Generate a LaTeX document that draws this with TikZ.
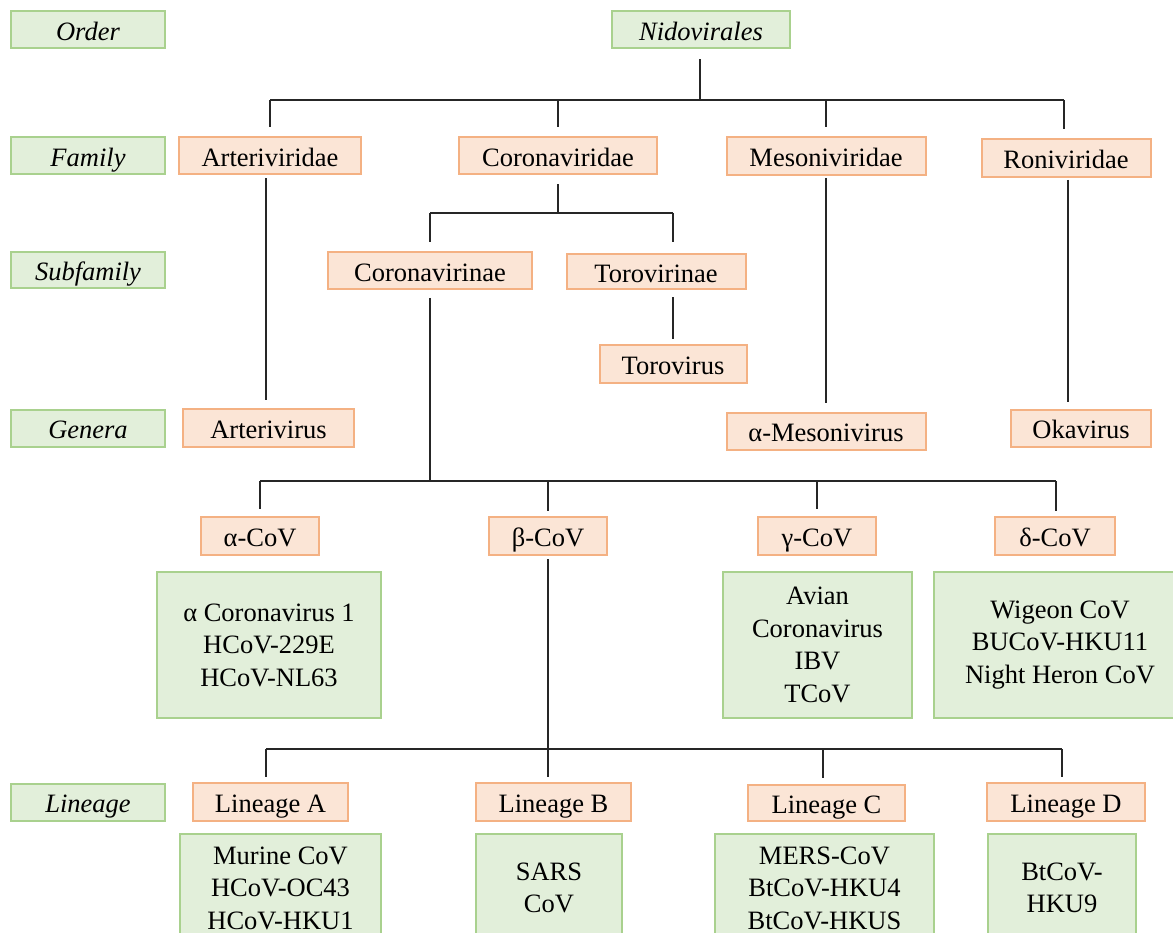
\documentclass[tikz,border=0pt]{standalone}
\usepackage{fontspec}
\setmainfont{Liberation Serif}
\definecolor{gfill}{HTML}{E2EFDA}
\definecolor{gline}{HTML}{A9D18E}
\definecolor{ofill}{HTML}{FBE5D6}
\definecolor{oline}{HTML}{F4B183}
\definecolor{cline}{HTML}{262626}
\begin{document}
\begin{tikzpicture}[x=1pt,y=-1pt,
  base/.style={inner sep=0pt,outer sep=0pt,line width=2pt,align=center,
    font=\fontsize{26.5}{32.5}\selectfont},
  one/.style={text height=20.5pt,text depth=0pt},
  gbox/.style={base,draw=gline,fill=gfill},
  obox/.style={base,one,draw=oline,fill=ofill},
  lbl/.style={gbox,one,minimum width=154pt,font=\fontsize{26.5}{32.5}\selectfont\itshape},
  conn/.style={draw=cline,line width=1.8pt}]
\clip (0,0) rectangle (1173,933);
\fill[white] (0,0) rectangle (1173,933);
% level labels
\node[lbl,minimum height=37pt] (lorder) at (88,30) {Order};
\node[lbl,minimum height=37pt] (lfamily) at (88,156) {Family};
\node[lbl,minimum height=36pt] (lsub) at (88,270) {Subfamily};
\node[lbl,minimum height=37pt] (lgen) at (88,428) {Genera};
\node[lbl,minimum height=37pt] (llin) at (88,802) {Lineage};
% tree nodes
\node[gbox,one,minimum width=178pt,minimum height=37pt,font=\fontsize{26.5}{32.5}\selectfont\itshape] (nid) at (701,30) {Nidovirales};
\node[obox,minimum width=182pt,minimum height=37pt] (art) at (270,156) {Arteriviridae};
\node[obox,minimum width=198pt,minimum height=37pt] (cor) at (558,156) {Coronaviridae};
\node[obox,minimum width=199pt,minimum height=38pt] (mes) at (826,156) {Mesoniviridae};
\node[obox,minimum width=169pt,minimum height=38pt] (ron) at (1066,158) {Roniviridae};
\node[obox,minimum width=204pt,minimum height=37pt] (crv) at (430,271) {Coronavirinae};
\node[obox,minimum width=179pt,minimum height=35pt] (trv) at (656,272) {Torovirinae};
\node[obox,minimum width=147pt,minimum height=37pt] (toro) at (673,364) {Torovirus};
\node[obox,minimum width=171pt,minimum height=38pt] (arv) at (268.5,428) {Arterivirus};
\node[obox,minimum width=199pt,minimum height=37pt] (mesv) at (826,431) {α-Mesonivirus};
\node[obox,minimum width=140pt,minimum height=37pt] (oka) at (1081,428) {Okavirus};
\node[obox,minimum width=118pt,minimum height=38pt] (acov) at (260,536) {α-CoV};
\node[obox,minimum width=118pt,minimum height=38pt] (bcov) at (548,536) {β-CoV};
\node[obox,minimum width=118pt,minimum height=38pt] (gcov) at (817,536) {γ-CoV};
\node[obox,minimum width=120pt,minimum height=38pt] (dcov) at (1055,536) {δ-CoV};
\node[gbox,minimum width=224pt,minimum height=146pt] (ga) at (269,645) {α Coronavirus 1\\HCoV-229E\\HCoV-NL63};
\node[gbox,minimum width=189pt,minimum height=146pt] (gg) at (817.5,645) {Avian\\Coronavirus\\IBV\\TCoV};
\node[gbox,minimum width=252pt,minimum height=146pt] (gd) at (1060,645) {Wigeon CoV\\BUCoV-HKU11\\Night Heron CoV};
\node[obox,minimum width=155pt,minimum height=38pt] (lina) at (270.5,802) {Lineage A};
\node[obox,minimum width=155pt,minimum height=38pt] (linb) at (553.5,802) {Lineage B};
\node[obox,minimum width=157pt,minimum height=36pt] (linc) at (826.5,803) {Lineage C};
\node[obox,minimum width=158pt,minimum height=38pt] (lind) at (1066,802) {Lineage D};
\node[gbox,minimum width=201pt,minimum height=108pt] (gm) at (280.5,888) {Murine CoV\\HCoV-OC43\\HCoV-HKU1};
\node[gbox,minimum width=146pt,minimum height=108pt] (gs) at (549,888) {SARS\\CoV};
\node[gbox,minimum width=219pt,minimum height=108pt] (gme) at (824.5,888) {MERS-CoV\\BtCoV-HKU4\\BtCoV-HKUS};
\node[gbox,minimum width=148pt,minimum height=108pt] (gbt) at (1062,888) {BtCoV-\\HKU9};
% bus levels
\coordinate (b1) at (0,100);
\coordinate (b2) at (0,213);
\coordinate (b3) at (0,481);
\coordinate (b4) at (0,749);
% Nidovirales -> families
\draw[conn] ([xshift=-1pt,yshift=-11pt]nid.south) -- ([xshift=-1pt]nid.south |- b1);
\draw[conn] (art.north |- b1) -- ([xshift=-2pt]ron.north |- b1);
\foreach \n in {art,cor,mes} \draw[conn] (\n.north |- b1) -- ([yshift=10pt]\n.north);
\draw[conn] ([xshift=-2pt]ron.north |- b1) -- ([xshift=-2pt,yshift=10pt]ron.north);
% Arteriviridae -> Arterivirus
\draw[conn] ([xshift=-4pt,yshift=-4pt]art.south) -- ([xshift=-4pt,yshift=9pt]art.south |- arv.north);
% Coronaviridae -> subfamilies
\draw[conn] ([yshift=-10pt]cor.south) -- (cor.south |- b2);
\draw[conn] (crv.north |- b2) -- (toro.north |- b2);
\draw[conn] (crv.north |- b2) -- ([yshift=10pt]crv.north);
\draw[conn] (toro.north |- b2) -- ([yshift=12pt]toro.north |- trv.north);
% Torovirinae -> Torovirus
\draw[conn] ([yshift=-8pt]toro.north |- trv.south) -- ([yshift=6pt]toro.north);
% Mesoniviridae -> alpha-Mesonivirus
\draw[conn] ([yshift=-3pt]mes.south) -- ([yshift=10pt]mes.south |- mesv.north);
% Roniviridae -> Okavirus
\draw[conn] ([xshift=2pt,yshift=-3pt]ron.south) -- ([xshift=2pt,yshift=7.5pt]ron.south |- oka.north);
% Coronavirinae -> genera
\draw[conn] ([yshift=-8.5pt]crv.south) -- (crv.south |- b3);
\draw[conn] (acov.north |- b3) -- ([xshift=1pt]dcov.north |- b3);
\draw[conn] (acov.north |- b3) -- ([yshift=8pt]acov.north);
\draw[conn] (bcov.north |- b3) -- ([yshift=6pt]bcov.north);
\draw[conn] (gcov.north |- b3) -- ([yshift=8pt]gcov.north);
\draw[conn] ([xshift=1pt]dcov.north |- b3) -- ([xshift=1pt,yshift=6pt]dcov.north);
% beta-CoV -> lineages
\draw[conn] ([yshift=-4pt]bcov.south) -- ([xshift=-5.5pt,yshift=6pt]linb.north);
\draw[conn] ([xshift=-4.5pt]lina.north |- b4) -- ([xshift=-4pt]lind.north |- b4);
\draw[conn] ([xshift=-4.5pt]lina.north |- b4) -- ([xshift=-4.5pt,yshift=6pt]lina.north);
\draw[conn] ([xshift=-3.5pt]linc.north |- b4) -- ([xshift=-3.5pt,yshift=7pt]linc.north);
\draw[conn] ([xshift=-4pt]lind.north |- b4) -- ([xshift=-4pt,yshift=6pt]lind.north);
\end{tikzpicture}
\end{document}
